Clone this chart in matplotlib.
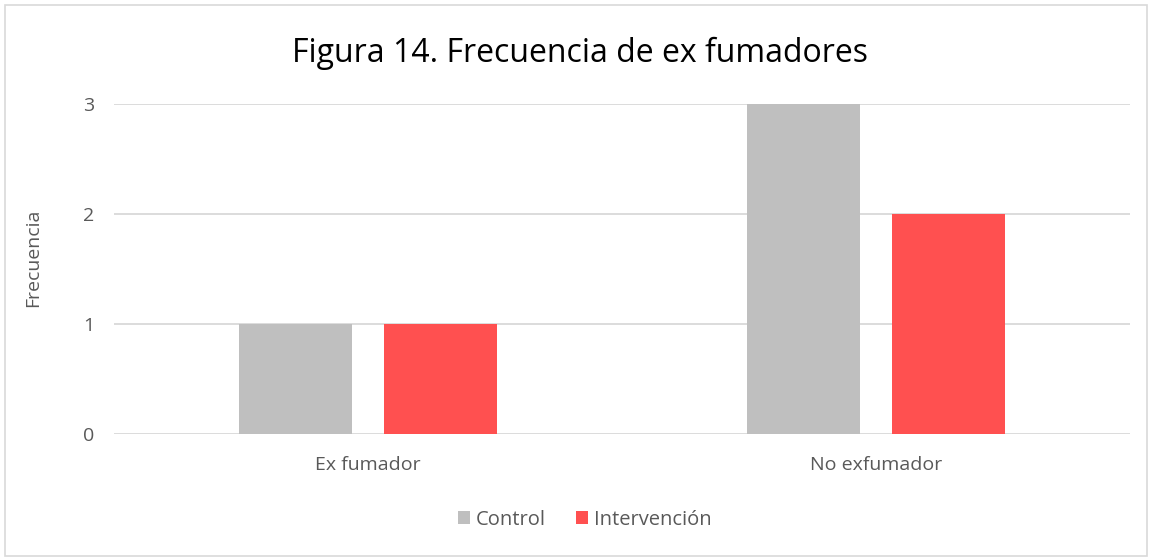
import numpy as np
import matplotlib.pyplot as plt
from matplotlib.patches import Rectangle

categories = ['Ex fumador', 'No exfumador']
control = [1, 3]
intervencion = [1, 2]
series_names = ['Control', 'Intervención']
yticks = [0, 1, 2, 3]

plt.rcParams['font.family'] = ['Open Sans', 'DejaVu Sans']
txt = '#595959'

fig = plt.figure(figsize=(11.53, 5.57), dpi=100)
ax = fig.add_axes([114 / 1153, 123 / 557, 1016 / 1153, 330 / 557])

x = np.arange(len(categories))
w = 0.222
ax.bar(x - 0.142, control, w, color='#BFBFBF', label=series_names[0], zorder=3)
ax.bar(x + 0.142, intervencion, w, color='#FF5050', label=series_names[1], zorder=3)

ax.set_xlim(-0.5, 1.5)
ax.set_ylim(0, 3)
ax.set_yticks(yticks)
ax.set_xticks(x)
ax.set_xticklabels(categories)
ax.tick_params(axis='both', length=0, labelsize=14, colors=txt)
ax.tick_params(axis='y', pad=14)
ax.tick_params(axis='x', pad=16)
ax.grid(axis='y', color='#D9D9D9', linewidth=1.3, zorder=0)
for s in ax.spines.values():
    s.set_visible(False)
ax.set_ylabel('Frecuencia', fontsize=14, color=txt, labelpad=30)
ax.yaxis.label.set_y(0.535)

fig.text(0.503, 0.905, 'Figura 14. Frecuencia de ex fumadores', ha='center', va='center',
         fontsize=23, color='black')

fig.legend(loc='center', bbox_to_anchor=(0.507, 0.067), ncol=2, frameon=False,
           fontsize=14.5, labelcolor=txt, handlelength=0.6, handleheight=0.6,
           handletextpad=0.3, columnspacing=1.5)

fig.patches.append(Rectangle((5 / 1153, 1 / 557), 1142 / 1153, 551 / 557,
                             transform=fig.transFigure, fill=False,
                             edgecolor='#D9D9D9', linewidth=1.2))

fig.savefig('out.png', dpi=100)
